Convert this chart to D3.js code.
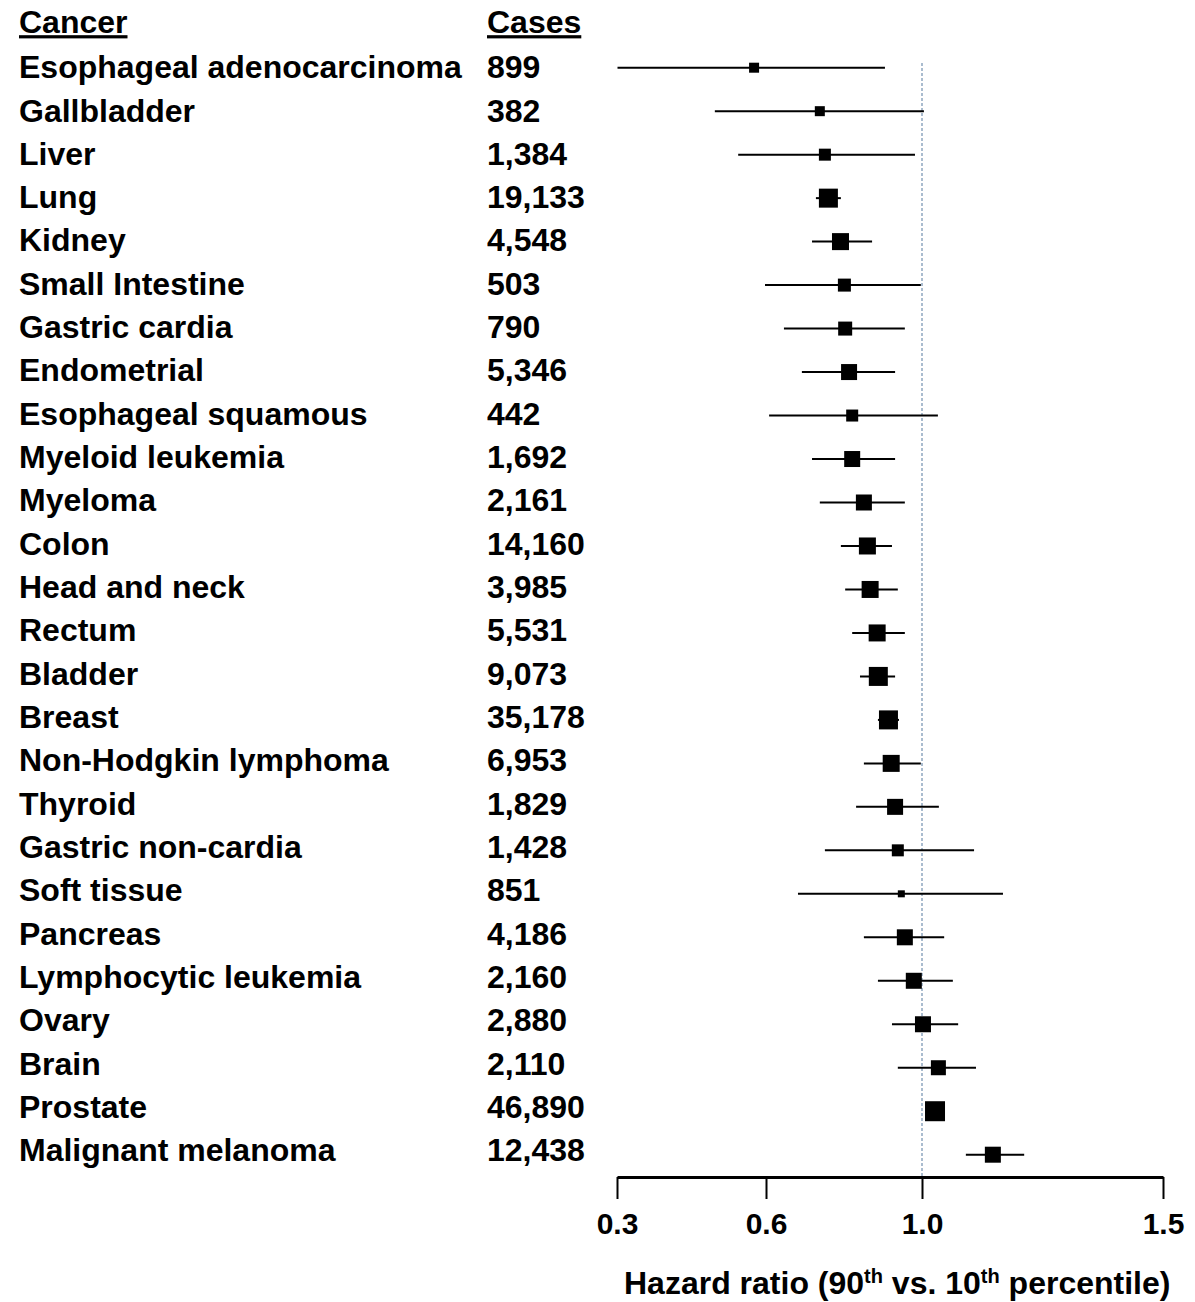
<!DOCTYPE html>
<html>
<head>
<meta charset="utf-8">
<title>Hazard ratios by cancer site</title>
<style>
body { margin: 0; background: #fff; }
svg text { font-family: "Liberation Sans", Arial, sans-serif; font-weight: bold; fill: #000; }
.axis path, .axis line { stroke: #000; }
</style>
</head>
<body>
<script src="https://d3js.org/d3.v7.min.js"></script>
<script>
var cancers = ["Esophageal adenocarcinoma", "Gallbladder", "Liver", "Lung", "Kidney",
  "Small Intestine", "Gastric cardia", "Endometrial", "Esophageal squamous", "Myeloid leukemia",
  "Myeloma", "Colon", "Head and neck", "Rectum", "Bladder", "Breast", "Non-Hodgkin lymphoma",
  "Thyroid", "Gastric non-cardia", "Soft tissue", "Pancreas", "Lymphocytic leukemia", "Ovary",
  "Brain", "Prostate", "Malignant melanoma"];
var cases = [899, 382, 1384, 19133, 4548, 503, 790, 5346, 442, 1692, 2161, 14160, 3985, 5531,
  9073, 35178, 6953, 1829, 1428, 851, 4186, 2160, 2880, 2110, 46890, 12438];
// hazard ratio and 95% CI
var hr = [0.576, 0.738, 0.751, 0.760, 0.791, 0.801, 0.803, 0.813, 0.821, 0.821, 0.851, 0.860,
  0.867, 0.885, 0.888, 0.914, 0.921, 0.931, 0.938, 0.947, 0.956, 0.979, 1.002, 1.034, 1.027, 1.147];
var lo = [0.301, 0.497, 0.544, 0.728, 0.718, 0.598, 0.646, 0.692, 0.608, 0.718, 0.738, 0.792,
  0.803, 0.821, 0.841, 0.887, 0.851, 0.831, 0.751, 0.682, 0.851, 0.887, 0.923, 0.938, 1.012, 1.091];
var hi = [0.905, 1.004, 0.982, 0.792, 0.872, 0.997, 0.956, 0.931, 1.033, 0.931, 0.956, 0.923,
  0.938, 0.956, 0.931, 0.941, 0.997, 1.035, 1.108, 1.168, 1.046, 1.064, 1.075, 1.112, 1.042, 1.212];
// relative weight of each estimate (marker size)
var weight = [0.50, 0.50, 0.60, 0.95, 0.85, 0.65, 0.70, 0.80, 0.60, 0.80, 0.80, 0.85, 0.85,
  0.85, 0.95, 0.95, 0.85, 0.80, 0.60, 0.35, 0.80, 0.80, 0.80, 0.75, 1.00, 0.80];
var tickVals = [0.3, 0.6, 1.0, 1.5];

var data = cancers.map(function(c, i) {
  return {name: c, cases: cases[i], hr: hr[i], lo: lo[i], hi: hi[i], w: weight[i]};
});

var width = 1195, height = 1302;

var svg = d3.select("body").append("svg")
    .attr("width", width)
    .attr("height", height);

var x = d3.scaleLinear().domain(tickVals).range([617, 766, 922, 1163]);
var y = d3.scalePoint().domain(cancers).range([67.7, 1154.7]);
var yText = d3.scalePoint().domain(cancers).range([67, 1150]);
var size = d3.scaleLinear().domain([0, 1]).range([0, 20]);
var fmt = d3.format(",");
var axisY = 1177;

// headers
svg.append("text").attr("x", 19).attr("y", 22).attr("dy", "0.35em")
    .style("font-size", "32px").style("text-decoration", "underline").text("Cancer");
svg.append("text").attr("x", 487).attr("y", 22).attr("dy", "0.35em")
    .style("font-size", "32px").style("text-decoration", "underline").text("Cases");

// row labels
svg.selectAll(".name").data(data).enter().append("text")
    .attr("class", "name")
    .attr("x", 19)
    .attr("y", function(d) { return yText(d.name); })
    .attr("dy", "0.35em")
    .style("font-size", "32px")
    .text(function(d) { return d.name; });

svg.selectAll(".cases").data(data).enter().append("text")
    .attr("class", "cases")
    .attr("x", 487)
    .attr("y", function(d) { return yText(d.name); })
    .attr("dy", "0.35em")
    .style("font-size", "32px")
    .text(function(d) { return fmt(d.cases); });

// reference line at 1
svg.append("line")
    .attr("x1", x(1)).attr("x2", x(1))
    .attr("y1", 63).attr("y2", axisY)
    .attr("stroke", "#8ea7c0")
    .attr("stroke-width", 1.5)
    .attr("stroke-dasharray", "3,2");

// confidence intervals
svg.selectAll(".ci").data(data).enter().append("line")
    .attr("class", "ci")
    .attr("x1", function(d) { return x(d.lo); })
    .attr("x2", function(d) { return x(d.hi); })
    .attr("y1", function(d) { return y(d.name); })
    .attr("y2", function(d) { return y(d.name); })
    .attr("stroke", "#000")
    .attr("stroke-width", 2);

// point estimates
svg.selectAll(".pt").data(data).enter().append("rect")
    .attr("class", "pt")
    .attr("x", function(d) { return x(d.hr) - size(d.w) / 2; })
    .attr("y", function(d) { return y(d.name) - size(d.w) / 2; })
    .attr("width", function(d) { return size(d.w); })
    .attr("height", function(d) { return size(d.w); })
    .attr("fill", "#000");

// x axis
var axis = svg.append("g")
    .attr("class", "axis")
    .attr("transform", "translate(0," + axisY + ")")
    .call(d3.axisBottom(x).tickValues(tickVals).tickSize(22).tickSizeOuter(0).tickPadding(14)
      .tickFormat(d3.format(".1f")));
axis.select(".domain").attr("stroke-width", 3);
axis.selectAll(".tick line").attr("stroke-width", 2);
axis.selectAll(".tick text")
    .style("font-size", "30px")
    .style("font-family", "'Liberation Sans', Arial, sans-serif")
    .style("font-weight", "bold")
    .attr("fill", "#000");

var title = svg.append("text")
    .attr("x", 624)
    .attr("y", 1283)
    .attr("dy", "0.35em")
    .style("font-size", "32px");
title.append("tspan").text("Hazard ratio (90");
title.append("tspan").attr("baseline-shift", "super").style("font-size", "20px").text("th");
title.append("tspan").text(" vs. 10");
title.append("tspan").attr("baseline-shift", "super").style("font-size", "20px").text("th");
title.append("tspan").text(" percentile)");
</script>
</body>
</html>
